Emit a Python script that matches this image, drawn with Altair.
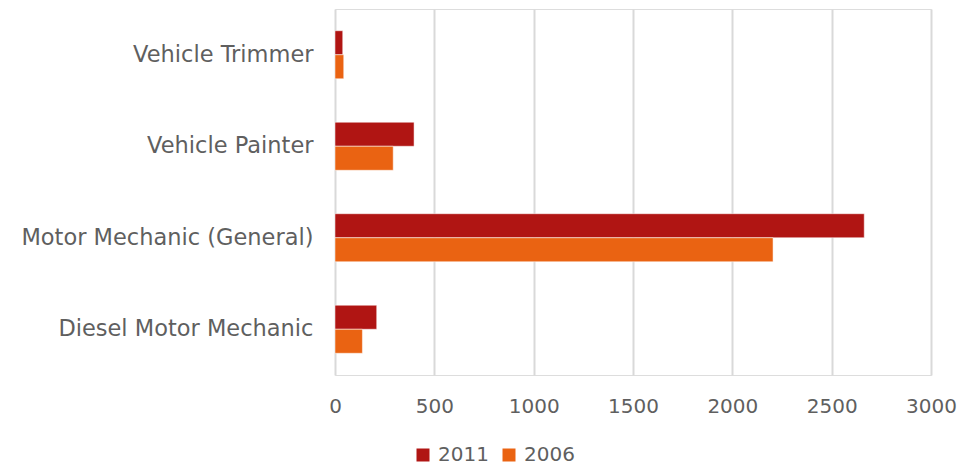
import altair as alt
import pandas as pd

categories = ["Vehicle Trimmer", "Vehicle Painter", "Motor Mechanic (General)", "Diesel Motor Mechanic"]
years = ["2011", "2006"]
values_2011 = [39, 398, 2664, 210]
values_2006 = [44, 293, 2205, 138]

rows = []
for c, v in zip(categories, values_2011):
    rows.append({"category": c, "year": "2011", "value": v})
for c, v in zip(categories, values_2006):
    rows.append({"category": c, "year": "2006", "value": v})
df = pd.DataFrame(rows)

FONT = "DejaVu Sans"
GRAY = "#5f5f5f"

chart = alt.Chart(df).mark_bar(stroke="#ffffff", strokeOpacity=0.5, strokeWidth=1).encode(
    y=alt.Y("category:N", sort=categories, title=None,
            scale=alt.Scale(paddingInner=0.475, paddingOuter=0.2375),
            axis=alt.Axis(labelFontSize=22.5, labelColor=GRAY, labelFont=FONT, labelPadding=22,
                          labelFontWeight="normal",
                          ticks=False, domain=False, grid=False, labelLimit=400)),
    x=alt.X("value:Q", title=None,
            scale=alt.Scale(domain=[0, 3000], nice=False),
            axis=alt.Axis(values=[0, 500, 1000, 1500, 2000, 2500, 3000], format="d",
                          labelFlush=False, labelFontSize=20, labelFontWeight="normal",
                          labelColor=GRAY, labelFont=FONT, labelPadding=21, ticks=False,
                          domain=False, grid=True, gridColor="#D9D9D9", gridWidth=2)),
    yOffset=alt.YOffset("year:N", sort=years),
    color=alt.Color("year:N", sort=years,
                    scale=alt.Scale(domain=years, range=["#B01513", "#EA6312"]),
                    legend=alt.Legend(title=None, orient="none", legendX=78, legendY=436,
                                      direction="horizontal", symbolType="square",
                                      symbolSize=169, symbolStrokeWidth=0,
                                      labelFontSize=20, labelFontWeight="normal",
                                      labelColor=GRAY, labelFont=FONT,
                                      columnPadding=10, labelOffset=5)),
).properties(
    width=596, height=366,
    autosize=alt.AutoSizeParams(type="none"),
    padding={"left": 335, "top": 9, "right": 31, "bottom": 91},
).configure_view(stroke=None).configure(background="white")

chart.save("out.html", embed_options={"renderer": "svg", "actions": False})
